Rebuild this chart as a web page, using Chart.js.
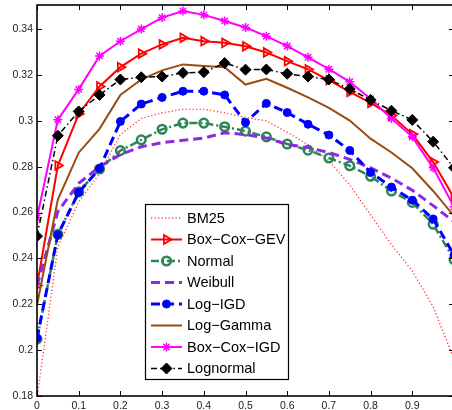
<!DOCTYPE html>
<html>
<head>
<meta charset="utf-8">
<script src="https://cdn.jsdelivr.net/npm/chart.js@4.4.1/dist/chart.umd.min.js"></script>
<style>
  html, body { margin: 0; padding: 0; background: #fff; overflow: hidden; }
  #wrap { width: 456px; height: 410px; }
</style>
</head>
<body>
<div id="wrap"><canvas id="chart" width="456" height="410"></canvas></div>
<script>
// x positions shared by every curve
const xValues = [0, 0.05, 0.1, 0.15, 0.2, 0.25, 0.3, 0.35, 0.4, 0.45, 0.5,
                 0.55, 0.6, 0.65, 0.7, 0.75, 0.8, 0.85, 0.9, 0.95, 1];

const bm25      = [0.179, 0.245, 0.2646, 0.277, 0.294, 0.301, 0.3035, 0.305, 0.305, 0.3035, 0.3015,
                   0.300, 0.295, 0.2895, 0.2825, 0.272, 0.259, 0.246, 0.2345, 0.219, 0.196];
const boxCoxGev = [0.2282, 0.2805, 0.303, 0.315, 0.3234, 0.3293, 0.3333, 0.3362, 0.3347, 0.334, 0.3325,
                   0.3298, 0.326, 0.3224, 0.3177, 0.3126, 0.3078, 0.3023, 0.2942, 0.282, 0.2665];
const normal    = [0.2048, 0.2505, 0.269, 0.279, 0.287, 0.2917, 0.2963, 0.299, 0.299, 0.2974, 0.2955,
                   0.293, 0.2899, 0.2872, 0.2838, 0.2804, 0.2758, 0.2694, 0.2644, 0.2549, 0.2395];
const weibull   = [0.228, 0.2605, 0.2727, 0.28, 0.2853, 0.2887, 0.2905, 0.2915, 0.2925, 0.2948, 0.294,
                   0.2925, 0.2897, 0.2883, 0.2862, 0.2832, 0.2795, 0.275, 0.2697, 0.263, 0.256];
const logIgd    = [0.2052, 0.2503, 0.2688, 0.2792, 0.2997, 0.3073, 0.3102, 0.3129, 0.3129, 0.3113, 0.2993,
                   0.3076, 0.3036, 0.2985, 0.2938, 0.2871, 0.2775, 0.2711, 0.2654, 0.2572, 0.2415];
const logGamma  = [0.2196, 0.2657, 0.2861, 0.2965, 0.3113, 0.318, 0.322, 0.3246, 0.3239, 0.3234, 0.3158,
                   0.3183, 0.3144, 0.3102, 0.3056, 0.3001, 0.2922, 0.2862, 0.2793, 0.2694, 0.2585];
const boxCoxIgd = [0.2577, 0.3005, 0.3137, 0.3283, 0.3347, 0.34, 0.345, 0.3479, 0.3462, 0.3435, 0.3407,
                   0.3369, 0.3326, 0.3277, 0.3225, 0.317, 0.3095, 0.301, 0.293, 0.2795, 0.2625];
const lognormal = [0.2497, 0.2935, 0.3041, 0.3113, 0.318, 0.319, 0.3193, 0.3209, 0.3212, 0.3252, 0.3223,
                   0.3224, 0.3205, 0.3193, 0.318, 0.3139, 0.3091, 0.3044, 0.3004, 0.2909, 0.2795];

const xTicks = [0, 0.1, 0.2, 0.3, 0.4, 0.5, 0.6, 0.7, 0.8, 0.9];
const xTickMarks = [0, 0.1, 0.2, 0.3, 0.4, 0.5, 0.6, 0.7, 0.8, 0.9, 1];
const yTicks = [0.18, 0.2, 0.22, 0.24, 0.26, 0.28, 0.3, 0.32, 0.34];

const FONT = '"Liberation Sans", Arial, Helvetica, sans-serif';

function points(values) {
    return values.map((v, i) => ({ x: xValues[i], y: v }));
}

function series(label, values, style) {
    return Object.assign({
        label: label,
        data: points(values),
        fill: false,
        tension: 0,
        pointRadius: 0,
        pointBorderWidth: 1.5,
        pointBackgroundColor: 'rgba(0,0,0,0)'
    }, style);
}

const datasets = [
    series('BM25', bm25, {
        borderColor: '#ff3c3c', borderWidth: 1.4, borderDash: [1.2, 2.3]
    }),
    series('Box\u2212Cox\u2212GEV', boxCoxGev, {
        borderColor: '#ff0000', borderWidth: 2,
        pointStyle: 'triangle', pointRotation: 90, pointRadius: 5,
        pointBorderColor: '#ff0000', pointBorderWidth: 1.8
    }),
    series('Normal', normal, {
        borderColor: '#2e8557', borderWidth: 2.5, borderDash: [8, 3, 2, 3],
        pointStyle: 'circle', pointRadius: 4.3,
        pointBorderColor: '#2e8557', pointBorderWidth: 2.5
    }),
    series('Weibull', weibull, {
        borderColor: '#8a2be2', borderWidth: 3, borderDash: [9, 5]
    }),
    series('Log\u2212IGD', logIgd, {
        borderColor: '#0000ff', borderWidth: 3, borderDash: [9, 5],
        pointStyle: 'circle', pointRadius: 4,
        pointBorderColor: '#0000ff', pointBackgroundColor: '#0000ff', pointBorderWidth: 1
    }),
    series('Log\u2212Gamma', logGamma, {
        borderColor: '#9a4b10', borderWidth: 2
    }),
    series('Box\u2212Cox\u2212IGD', boxCoxIgd, {
        borderColor: '#ff00ff', borderWidth: 2,
        pointStyle: 'star', pointRadius: 4.5,
        pointBorderColor: '#ff00ff', pointBorderWidth: 1.5
    }),
    series('Lognormal', lognormal, {
        borderColor: '#000000', borderWidth: 1.5, borderDash: [6, 3, 1.5, 3],
        pointStyle: 'rectRot', pointRadius: 5.5,
        pointBorderColor: '#000000', pointBackgroundColor: '#000000', pointBorderWidth: 1
    })
];

// later series are painted over earlier ones
datasets.forEach((ds, i) => { ds.order = datasets.length - i; });

function fmt(v) {
    return String(Number(v.toFixed(2)));
}

// frame with inward tick marks on all four sides
const frame = {
    id: 'frame',
    afterDatasetsDraw(chart) {
        const { ctx, chartArea: a, scales } = chart;
        ctx.save();
        ctx.strokeStyle = '#000';
        ctx.setLineDash([]);
        ctx.lineWidth = 1;
        const len = 5;
        ctx.beginPath();
        xTickMarks.forEach(v => {
            const px = Math.round(scales.x.getPixelForValue(v)) + 0.5;
            ctx.moveTo(px, a.bottom); ctx.lineTo(px, a.bottom - len);
            ctx.moveTo(px, a.top); ctx.lineTo(px, a.top + len);
        });
        yTicks.forEach(v => {
            const py = Math.round(scales.y.getPixelForValue(v)) + 0.5;
            ctx.moveTo(a.left, py); ctx.lineTo(a.left + len, py);
            ctx.moveTo(a.right, py); ctx.lineTo(a.right - len, py);
        });
        ctx.stroke();
        ctx.lineWidth = 1.6;
        ctx.strokeRect(a.left, a.top, a.right - a.left, a.bottom - a.top);
        ctx.restore();
    }
};

function drawMarker(ctx, ds, x, y) {
    if (!ds.pointRadius) return;
    ctx.setLineDash([]);
    ctx.strokeStyle = ds.pointBorderColor;
    ctx.fillStyle = ds.pointBackgroundColor;
    ctx.lineWidth = ds.pointBorderWidth;
    Chart.helpers.drawPoint(ctx, {
        pointStyle: ds.pointStyle,
        rotation: ds.pointRotation || 0,
        radius: ds.pointRadius,
        borderWidth: ds.pointBorderWidth
    }, x, y);
}

// boxed legend sitting inside the plot
const boxLegend = {
    id: 'boxLegend',
    afterDraw(chart) {
        const ctx = chart.ctx;
        const box = { left: 145, top: 204, right: 288, bottom: 379 };
        ctx.save();
        ctx.fillStyle = '#fff';
        ctx.fillRect(box.left, box.top, box.right - box.left, box.bottom - box.top);
        ctx.strokeStyle = '#000';
        ctx.lineWidth = 1.2;
        ctx.setLineDash([]);
        ctx.strokeRect(box.left + 0.5, box.top + 0.5, box.right - box.left, box.bottom - box.top);

        ctx.font = '14.5px ' + FONT;
        ctx.textBaseline = 'middle';
        chart.data.datasets.forEach((ds, i) => {
            const y = 218 + i * 21.5;
            ctx.strokeStyle = ds.borderColor;
            ctx.lineWidth = ds.borderWidth;
            ctx.setLineDash(ds.borderDash || []);
            ctx.beginPath();
            ctx.moveTo(151, y);
            ctx.lineTo(182, y);
            ctx.stroke();
            drawMarker(ctx, ds, 166.5, y);
            ctx.fillStyle = '#000';
            ctx.fillText(ds.label, 187, y + 0.5);
        });
        ctx.restore();
    }
};

new Chart(document.getElementById('chart'), {
    type: 'line',
    data: { datasets: datasets },
    options: {
        responsive: false,
        animation: false,
        layout: { autoPadding: false, padding: { top: 5, right: 2, left: 0, bottom: 0 } },
        plugins: {
            legend: { display: false },
            tooltip: { enabled: false }
        },
        scales: {
            x: {
                type: 'linear',
                min: 0,
                max: 1,
                grid: { display: false, drawTicks: false },
                border: { display: false },
                afterBuildTicks: scale => { scale.ticks = xTicks.map(v => ({ value: v })); },
                afterFit: scale => {
                    scale.height = 14;
                    scale.paddingLeft = 0;
                    scale.paddingRight = 0;
                },
                ticks: {
                    padding: 4,
                    maxRotation: 0,
                    color: '#222',
                    font: { family: FONT, size: 10.5 },
                    callback: v => fmt(v)
                }
            },
            y: {
                min: 0.18,
                max: 0.3505,
                grid: { display: false, drawTicks: false },
                border: { display: false },
                afterBuildTicks: scale => { scale.ticks = yTicks.map(v => ({ value: v })); },
                afterFit: scale => {
                    scale.width = 37;
                    scale.paddingTop = 0;
                    scale.paddingBottom = 0;
                },
                ticks: {
                    padding: 4,
                    color: '#222',
                    font: { family: FONT, size: 10.5 },
                    callback: v => fmt(v)
                }
            }
        }
    },
    plugins: [frame, boxLegend]
});
</script>
</body>
</html>
